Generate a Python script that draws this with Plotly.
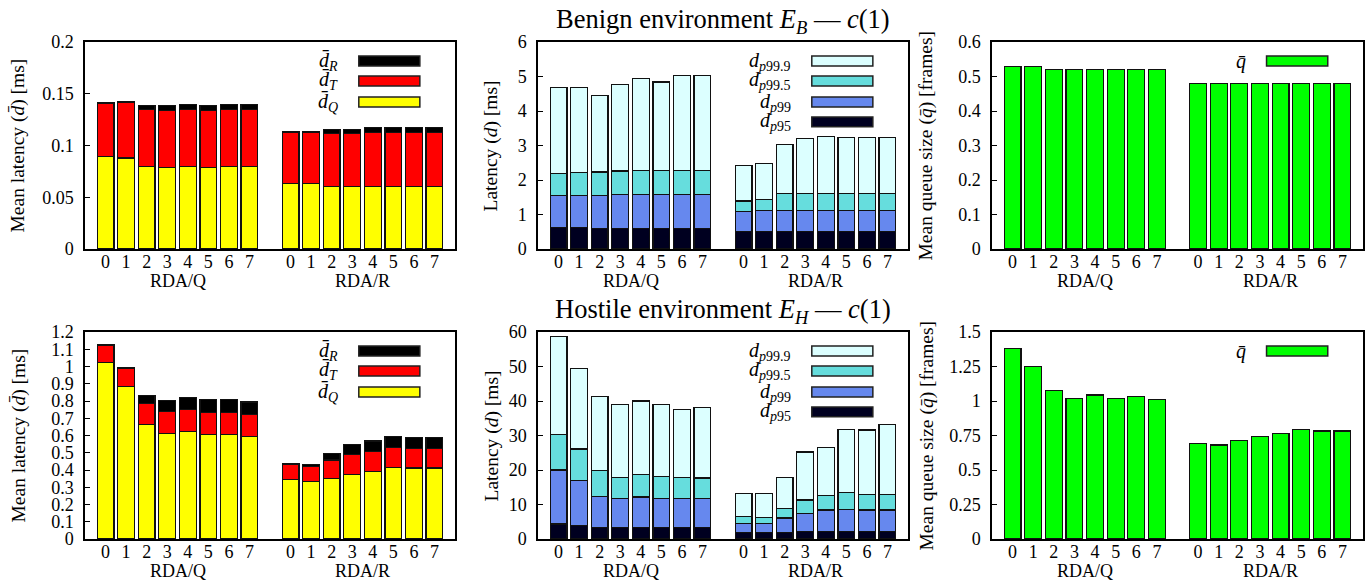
import plotly.graph_objects as go

# ---------------- data ----------------
rda_labels = ["0", "1", "2", "3", "4", "5", "6", "7"]
groups = ["RDA/Q", "RDA/R"]

# Benign environment: mean latency components [ms]
ben_dQ_Q = [0.089, 0.088, 0.080, 0.079, 0.080, 0.079, 0.080, 0.080]
ben_dT_Q = [0.052, 0.054, 0.0545, 0.0545, 0.0545, 0.0545, 0.0545, 0.0545]
ben_dR_Q = [0.0004, 0.0004, 0.004, 0.0055, 0.0055, 0.0055, 0.0055, 0.0055]
ben_dQ_R = [0.0636, 0.0636, 0.0607, 0.0607, 0.0607, 0.0607, 0.0607, 0.0607]
ben_dT_R = [0.049, 0.049, 0.0507, 0.0507, 0.0517, 0.0517, 0.0517, 0.0517]
ben_dR_R = [0.0004, 0.0004, 0.004, 0.004, 0.005, 0.005, 0.005, 0.005]

# Benign environment: latency percentiles [ms]
ben_p95_Q = [0.63, 0.63, 0.60, 0.60, 0.60, 0.60, 0.60, 0.60]
ben_p99_Q = [1.55, 1.55, 1.55, 1.57, 1.57, 1.57, 1.57, 1.57]
ben_p995_Q = [2.19, 2.21, 2.23, 2.26, 2.27, 2.27, 2.28, 2.28]
ben_p999_Q = [4.69, 4.69, 4.46, 4.77, 4.94, 4.84, 5.04, 5.04]
ben_p95_R = [0.51, 0.51, 0.51, 0.51, 0.51, 0.51, 0.51, 0.51]
ben_p99_R = [1.09, 1.11, 1.12, 1.12, 1.12, 1.12, 1.12, 1.12]
ben_p995_R = [1.39, 1.43, 1.61, 1.61, 1.62, 1.62, 1.62, 1.62]
ben_p999_R = [2.41, 2.48, 3.04, 3.20, 3.25, 3.24, 3.24, 3.24]

# Benign environment: mean queue size [frames]
ben_q_Q = [0.53, 0.53, 0.52, 0.52, 0.52, 0.52, 0.52, 0.52]
ben_q_R = [0.48, 0.48, 0.48, 0.48, 0.48, 0.48, 0.48, 0.48]

# Hostile environment: mean latency components [ms]
hos_dQ_Q = [1.023, 0.884, 0.664, 0.612, 0.622, 0.605, 0.607, 0.595]
hos_dT_Q = [0.102, 0.104, 0.122, 0.128, 0.127, 0.127, 0.127, 0.125]
hos_dR_Q = [0.002, 0.008, 0.044, 0.065, 0.073, 0.075, 0.077, 0.074]
hos_dQ_R = [0.343, 0.333, 0.349, 0.376, 0.391, 0.416, 0.412, 0.412]
hos_dT_R = [0.088, 0.089, 0.109, 0.113, 0.116, 0.114, 0.112, 0.112]
hos_dR_R = [0.004, 0.008, 0.039, 0.058, 0.061, 0.063, 0.063, 0.065]

# Hostile environment: latency percentiles [ms]
hos_p95_Q = [4.35, 3.9, 3.3, 3.3, 3.3, 3.3, 3.3, 3.3]
hos_p99_Q = [20.0, 16.9, 12.3, 11.7, 12.2, 11.7, 11.8, 11.7]
hos_p995_Q = [30.4, 26.1, 19.8, 17.9, 18.6, 18.2, 17.9, 17.7]
hos_p999_Q = [58.6, 49.4, 41.3, 38.9, 40.0, 38.9, 37.5, 38.1]
hos_p95_R = [1.84, 1.84, 2.0, 2.1, 2.1, 2.1, 2.1, 2.1]
hos_p99_R = [4.44, 4.44, 6.1, 7.5, 8.4, 8.5, 8.4, 8.4]
hos_p995_R = [6.57, 6.3, 8.9, 11.3, 12.7, 13.4, 13.0, 12.8]
hos_p999_R = [13.3, 13.2, 17.9, 25.2, 26.6, 31.8, 31.6, 33.1]

# Hostile environment: mean queue size [frames]
hos_q_Q = [1.382, 1.252, 1.074, 1.021, 1.043, 1.021, 1.033, 1.011]
hos_q_R = [0.693, 0.681, 0.713, 0.744, 0.763, 0.792, 0.783, 0.783]

# ---------------- styling ----------------
FONT = "Liberation Serif"
C_YEL, C_RED, C_BLK = "#ffff00", "#ff0000", "#000000"
C_P999, C_P995, C_P99, C_P95 = "#dcffff", "#66dddd", "#6688ee", "#000020"
C_GRN = "#00ff00"
BAR_W = 0.82

W, H = 1370, 580
cols_px = [(85, 455), (538, 908), (992, 1363)]
rows_px = [(42, 249), (332, 539)]

# x positions: RDA/Q at 0..7, gap, RDA/R at 9..16
xpos = list(range(len(rda_labels))) + [i + len(rda_labels) + 1 for i in range(len(rda_labels))]
ticktext = rda_labels + rda_labels
group_centers = [(len(rda_labels) - 1) / 2, len(rda_labels) + 1 + (len(rda_labels) - 1) / 2]

fig = go.Figure()


def axname(k):
    return ("x" if k == 1 else f"x{k}"), ("y" if k == 1 else f"y{k}")


def add_bar(k, vals, color, base=None):
    xa, ya = axname(k)
    fig.add_trace(go.Bar(
        x=xpos, y=vals, base=base, xaxis=xa, yaxis=ya, width=BAR_W,
        marker=dict(color=color, line=dict(color="#111111", width=1.2)),
        showlegend=False, hoverinfo="y"))


panels = [
    dict(kind="stack", Q=(ben_dQ_Q, ben_dT_Q, ben_dR_Q), R=(ben_dQ_R, ben_dT_R, ben_dR_R)),
    dict(kind="pct", Q=(ben_p999_Q, ben_p995_Q, ben_p99_Q, ben_p95_Q), R=(ben_p999_R, ben_p995_R, ben_p99_R, ben_p95_R)),
    dict(kind="q", Q=(ben_q_Q,), R=(ben_q_R,)),
    dict(kind="stack", Q=(hos_dQ_Q, hos_dT_Q, hos_dR_Q), R=(hos_dQ_R, hos_dT_R, hos_dR_R)),
    dict(kind="pct", Q=(hos_p999_Q, hos_p995_Q, hos_p99_Q, hos_p95_Q), R=(hos_p999_R, hos_p995_R, hos_p99_R, hos_p95_R)),
    dict(kind="q", Q=(hos_q_Q,), R=(hos_q_R,)),
]

colors = {
    "stack": [C_YEL, C_RED, C_BLK],
    "pct": [C_P999, C_P995, C_P99, C_P95],
    "q": [C_GRN],
}

for k, p in enumerate(panels, start=1):
    for i, col in enumerate(colors[p["kind"]]):
        vals = list(p["Q"][i]) + list(p["R"][i])
        if p["kind"] == "pct":
            add_bar(k, vals, col, base=[0] * len(vals))
        else:
            add_bar(k, vals, col)

yranges = [(0, 0.2, 0.05), (0, 6, 1), (0, 0.6, 0.1), (0, 1.2, 0.1), (0, 60, 10), (0, 1.5, 0.25)]
ytitles = ["Mean latency (<i>d̄</i>) [ms]", "Latency (<i>d</i>) [ms]", "Mean queue size (<i>q̄</i>) [frames]"]
ytitle_x = [18, 491, 926]

layout = dict(
    template="none",
    width=W, height=H, margin=dict(l=0, r=0, t=0, b=0, pad=0, autoexpand=False),
    paper_bgcolor="white", plot_bgcolor="white",
    barmode="stack", font=dict(family=FONT, size=18, color="black"),
    showlegend=False,
)

annotations = []
shapes = []

for k in range(1, 7):
    r, c = divmod(k - 1, 3)
    xl, xr = cols_px[c]
    yt, yb = rows_px[r]
    xa, ya = axname(k)
    xkey = "xaxis" if k == 1 else f"xaxis{k}"
    ykey = "yaxis" if k == 1 else f"yaxis{k}"
    layout[xkey] = dict(
        domain=[xl / W, xr / W], anchor=ya, range=[-1, 2 * len(rda_labels) + 1],
        tickmode="array", tickvals=xpos, ticktext=ticktext, ticks="",
        showline=True, mirror=True, linecolor="black", linewidth=1.5, automargin=False,
        showgrid=False, zeroline=False, tickfont=dict(size=18), ticklabelstandoff=-4)
    y0, y1, dt = yranges[k - 1]
    layout[ykey] = dict(
        domain=[1 - yb / H, 1 - yt / H], anchor=xa, range=[y0, y1], dtick=dt, tick0=0,
        ticks="inside", ticklen=5, tickcolor="black", tickwidth=1, automargin=False,
        showline=True, mirror=True, linecolor="black", linewidth=1.5,
        showgrid=False, zeroline=False, tickfont=dict(size=18), ticklabelstandoff=6)

    # group labels
    for g, gc in zip(groups, group_centers):
        annotations.append(dict(x=gc, y=0, xref=xa, yref=f"{ya} domain", text=g,
                                showarrow=False, yanchor="middle", yshift=-32,
                                font=dict(size=18)))
    # y-axis titles
    annotations.append(dict(x=ytitle_x[c] / W, y=1 - (yt + yb) / 2 / H, xref="paper", yref="paper",
                            text=ytitles[c], textangle=-90, showarrow=False,
                            xanchor="center", yanchor="middle", font=dict(size=19.5)))

# titles
annotations.append(dict(x=723 / W, y=1 - 21 / H, xref="paper", yref="paper",
                        text="Benign environment <i>E</i><sub><i>B</i></sub> — <i>c</i>(1)",
                        showarrow=False, font=dict(size=26.5), xanchor="center", yanchor="middle"))
annotations.append(dict(x=723 / W, y=1 - 311 / H, xref="paper", yref="paper",
                        text="Hostile environment <i>E</i><sub><i>H</i></sub> — <i>c</i>(1)",
                        showarrow=False, font=dict(size=26.5), xanchor="center", yanchor="middle"))

# legend keys (label on the left, swatch on the right)
key_rows = [0.908, 0.812, 0.710, 0.614]
key_half = 0.024
legend_defs = {
    "stack": [("<i>d̄</i><sub><i>R</i></sub>", C_BLK), ("<i>d̄</i><sub><i>T</i></sub>", C_RED),
              ("<i>d̄</i><sub><i>Q</i></sub>", C_YEL)],
    "pct": [("<i>d</i><sub><i>p</i>99.9</sub>", C_P999), ("<i>d</i><sub><i>p</i>99.5</sub>", C_P995),
            ("<i>d</i><sub><i>p</i>99</sub>", C_P99), ("<i>d</i><sub><i>p</i>95</sub>", C_P95)],
    "q": [("<i>q̄</i>", C_GRN)],
}
for k, p in enumerate(panels, start=1):
    xa, ya = axname(k)
    for j, (lbl, col) in enumerate(legend_defs[p["kind"]]):
        yc = key_rows[j]
        shapes.append(dict(type="rect", xref=f"{xa} domain", yref=f"{ya} domain",
                           x0=0.74, x1=0.905, y0=yc - key_half, y1=yc + key_half,
                           fillcolor=col, line=dict(color="#222222", width=1.5)))
        annotations.append(dict(x=0.69, y=yc, xref=f"{xa} domain", yref=f"{ya} domain",
                                text=lbl, showarrow=False, xanchor="right", yanchor="middle",
                                font=dict(size=20)))

layout["annotations"] = annotations
layout["shapes"] = shapes
fig.update_layout(**layout)
fig.write_html("out.html", config={"displayModeBar": False},
               post_script="document.body.style.margin='0';document.body.style.overflow='hidden';")
